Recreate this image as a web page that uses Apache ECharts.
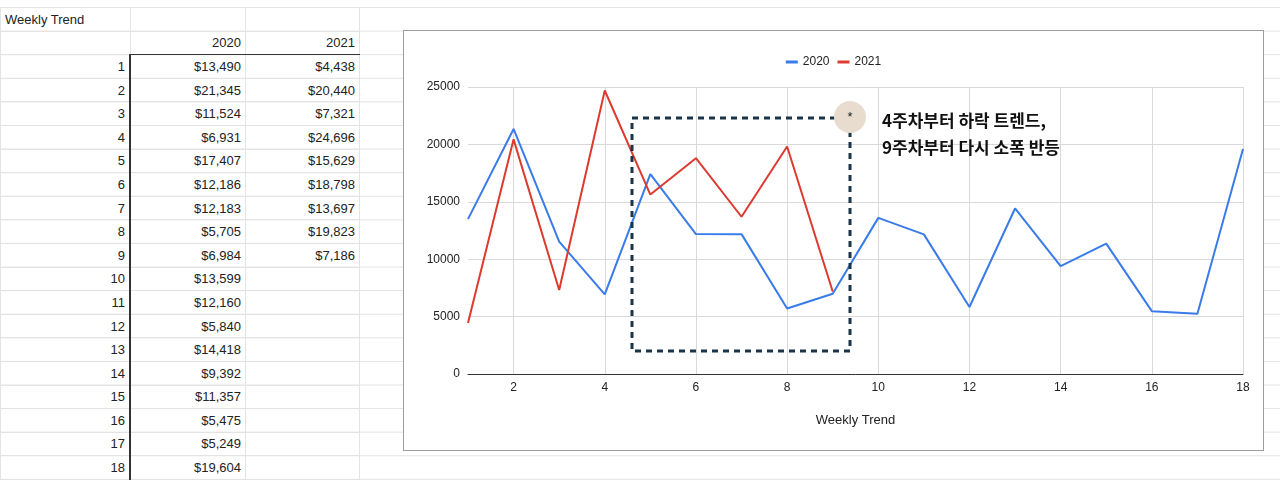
<!DOCTYPE html>
<html><head><meta charset="utf-8">
<script src="https://cdn.jsdelivr.net/npm/echarts@6/dist/echarts.min.js"></script>
<style>
body{margin:0;width:1280px;height:490px;background:#fff;font-family:"Liberation Sans",Arial,sans-serif;overflow:hidden;position:relative}
#sheet{position:absolute;left:0;top:0;width:1280px;height:490px;
 background-image:linear-gradient(#e2e3e3 1px,transparent 1px);
 background-size:100% 23.6px;background-position:0 7px}
table{position:absolute;left:0;top:7px;border-collapse:collapse;font-size:13px;color:#222}
td{height:22.6px;padding:0 4px;border:1px solid #e2e3e3;text-align:right}
td.a{width:120px}td.b{width:106px}td.c{width:105px}
td.l{text-align:left}
#chart{position:absolute;left:403px;top:30px;width:859px;height:419px;border:1px solid #9e9e9e;background:#fff}
</style></head><body>
<div id="sheet"></div>
<table id="tbl"></table>
<div id="chart"></div>
<script>
const weeks = [1,2,3,4,5,6,7,8,9,10,11,12,13,14,15,16,17,18]
const sales2020 = [13490,21345,11524,6931,17407,12186,12183,5705,6984,13599,12160,5840,14418,9392,11357,5475,5249,19604]
const sales2021 = [4438,20440,7321,24696,15629,18798,13697,19823,7186]
const seriesNames = ['2020','2021']
const noteLines = ['4주차부터 하락 트렌드,','9주차부터 다시 소폭 반등']

const fmt = v => v == null ? '' : '$' + v.toLocaleString('en-US')
let html = '<tr><td class="a l">Weekly Trend</td><td class="b"></td><td class="c"></td></tr>'
html += '<tr><td class="a"></td><td class="b" style="border-bottom:1px solid #333">2020</td><td class="c" style="border-bottom:1px solid #333">2021</td></tr>'
weeks.forEach((w, i) => {
  html += `<tr><td class="a" style="border-right:2px solid #333">${w}</td><td class="b">${fmt(sales2020[i])}</td><td class="c">${fmt(sales2021[i])}</td></tr>`
})
document.getElementById('tbl').innerHTML = html

const chart = echarts.init(document.getElementById('chart'))
chart.setOption({
  animation: false,
  textStyle: { fontFamily: 'Liberation Sans, Arial' },
  color: ['#3a7bea', '#dc3a2f'],
  legend: { top: 20, left: 'center', icon: 'rect', itemWidth: 12, itemHeight: 3,
    textStyle: { fontSize: 12, color: '#222' }, data: seriesNames },
  grid: { left: 64, right: 20, top: 56, bottom: 76 },
  xAxis: { type: 'category', boundaryGap: false, data: weeks,
    name: 'Weekly Trend', nameLocation: 'middle', nameGap: 40,
    nameTextStyle: { fontSize: 13, color: '#222' },
    axisLabel: { color: '#222', fontSize: 12, interval: 0, formatter: v => v % 2 === 0 ? v : '' },
    axisTick: { show: false },
    axisLine: { lineStyle: { color: '#333' } },
    splitLine: { show: true, interval: i => i % 2 === 1, lineStyle: { color: '#d9d9d9' } } },
  yAxis: { type: 'value', min: 0, max: 25000, interval: 5000,
    axisLabel: { color: '#222', fontSize: 12, formatter: v => String(v) },
    splitLine: { lineStyle: { color: '#d9d9d9' } } },
  series: [
    { name: seriesNames[0], type: 'line', symbol: 'none', lineStyle: { width: 2 }, data: sales2020 },
    { name: seriesNames[1], type: 'line', symbol: 'none', lineStyle: { width: 2 }, data: sales2021 }
  ],
  graphic: [
    { type: 'rect', shape: { x: 228, y: 87, width: 218, height: 233 },
      style: { fill: 'none', stroke: '#1c3447', lineWidth: 3, lineDash: [6, 5] }, z: 10 },
    { type: 'circle', shape: { cx: 446, cy: 86, r: 16 }, style: { fill: '#e8dccf' }, z: 11 },
    { type: 'text', x: 446, y: 86, style: { text: '*', fill: '#222', font: '13px Liberation Sans', align: 'center', verticalAlign: 'middle' }, z: 12 },
    { type: 'text', x: 478, y: 76, style: { text: noteLines.join('\n'), fill: '#111', lineHeight: 27,
      font: 'bold 17px "Noto Sans CJK KR"' }, z: 12 }
  ]
})
</script>
</body></html>
